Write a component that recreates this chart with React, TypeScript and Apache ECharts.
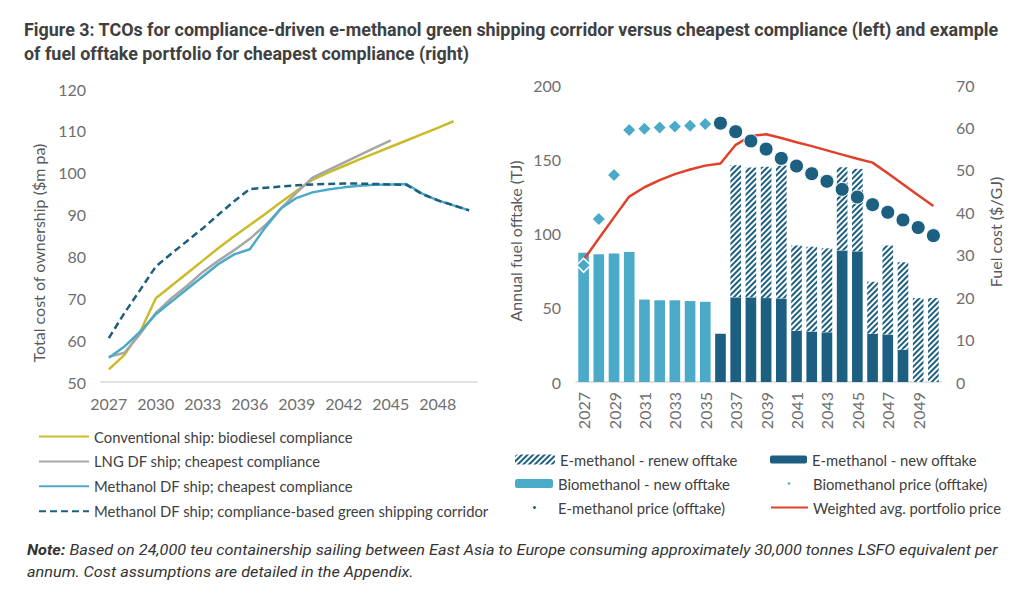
import React, { useEffect, useRef } from 'react';
import * as echarts from 'echarts';

const years = ['2027','2028','2029','2030','2031','2032','2033','2034','2035','2036','2037','2038','2039','2040','2041','2042','2043','2044','2045','2046','2047','2048','2049','2050'];

// Left chart: TCO ($m pa)
const conventional = [53, 56.5, 62, 70, 73, 76, 79, 82, 84.8, 87.5, 90.2, 93, 95.7, 98.3, 100, 101.6, 103.2, 104.7, 106.2, 107.7, 109.2, 110.7, 112.3, null];
const lngDf = [56, 57, 61.5, 66.5, 70, 73, 76.3, 79, 81.5, 84.2, 87.5, 91.5, 95.3, 98.8, 100.6, 102.4, 104.2, 106, 107.7, null, null, null, null, null];
const methanolDf = [55.8, 58.5, 62, 66.2, 69.2, 72.2, 75.2, 78.2, 80.5, 81.7, 87, 91.5, 94, 95.3, 96, 96.5, 96.9, 97.1, 97.2, 97.3, 95, 93.4, 92.2, 91];
const corridor = [60.5, 66.5, 72, 77.6, 80.7, 83.7, 86.7, 90, 93.2, 96.1, 96.4, 96.7, 97, 97.2, 97.3, 97.4, 97.4, 97.3, 97.2, 97.1, 94.9, 93.4, 92.2, 91];

// Right chart: offtake (TJ) and prices ($/GJ)
const bioNew = [87, 86, 86.5, 87.5, 55.5, 55, 55, 54.5, 54, null, null, null, null, null, null, null, null, null, null, null, null, null, null, null];
const eNew = [null, null, null, null, null, null, null, null, null, 32.5, 57, 57, 56.5, 56.3, 34.5, 34, 33.5, 88.6, 88, 32.5, 32, 21.7, null, null];
const eRenew = [null, null, null, null, null, null, null, null, null, null, 89, 87.5, 88.5, 89.5, 57.5, 57, 56.5, 56, 55.5, 35, 60, 59, 56.5, 56.5];
const bioPrice = [27.5, 38.4, 48.8, 59.4, 59.7, 60, 60.2, 60.4, 60.8, null, null, null, null, null, null, null, null, null, null, null, null, null, null, null];
const ePrice = [null, null, null, null, null, null, null, null, null, 61, 59, 56.8, 54.9, 52.7, 50.9, 49.1, 47.3, 45.4, 43.6, 41.8, 40, 38.2, 36.4, 34.5];
const weighted = [28.8, 33.8, 38.8, 43.7, 45.9, 47.6, 49, 50.1, 51, 51.5, 55.9, 58, 58.4, 57.5, 56.5, 55.6, 54.6, 53.6, 52.6, 51.7, 49.2, 46.6, 44, 41.5];

const leftTicks = { min: 50, max: 120, interval: 10 };
const offtakeTicks = { min: 0, max: 200, interval: 50 };
const costTicks = { min: 0, max: 70, interval: 10 };

const TITLE_1 = 'Figure 3: TCOs for compliance-driven e-methanol green shipping corridor versus cheapest compliance (left) and example';
const TITLE_2 = 'of fuel offtake portfolio for cheapest compliance (right)';
const NOTE_B = 'Note:';
const NOTE_1 = ' Based on 24,000 teu containership sailing between East Asia to Europe consuming approximately 30,000 tonnes LSFO equivalent per';
const NOTE_2 = 'annum. Cost assumptions are detailed in the Appendix.';

const FONT = 'Lato, "Open Sans", sans-serif';
const TFONT = 'Roboto';
const C_YELLOW = '#cbbb2a';
const C_GRAY = '#a6a6a6';
const C_LBLUE = '#4aaac8';
const C_DARK = '#1c5f80';
const C_RED = '#e0412b';
const AX_LABEL = { color: '#6f6f6f', fontSize: 16, fontFamily: FONT };
const LEG_TEXT = { color: '#404040', fontSize: 14.8, fontFamily: FONT };

const hatch = {
  symbol: 'rect',
  symbolSize: 1,
  color: C_DARK,
  dashArrayX: [1, 0],
  dashArrayY: [2, 2],
  rotation: -Math.PI / 4,
};

function measure(text: string, font: string) {
  const ctx = document.createElement('canvas').getContext('2d');
  if (!ctx) return 0;
  ctx.font = font;
  return ctx.measureText(text).width;
}

function buildOption() {
  const titleW = measure(TITLE_1, `bold 18px ${TFONT}`) || 976;
  const titleScale = 976 / titleW;
  const noteW = (measure(NOTE_B, `italic bold 14.5px ${TFONT}`) + measure(NOTE_1, `italic 14.5px ${TFONT}`)) || 971;
  const noteScale = 971 / noteW;

  const lineSeries = (name: string, data: any[], color: string, dashed = false) => ({
    name,
    type: 'line',
    xAxisIndex: 0,
    yAxisIndex: 0,
    data,
    symbol: 'none',
    showSymbol: false,
    lineStyle: { color, width: 2.5, type: dashed ? [7, 4] : 'solid' },
    itemStyle: { color },
  });

  const smallLegend = (name: string, left: number, top: number, w: number, h: number, extra: any = {}) => ({
    data: [name],
    left,
    top,
    itemWidth: w,
    itemHeight: h,
    padding: 0,
    textStyle: LEG_TEXT,
    selectedMode: false,
    ...extra,
  });

  return {
    animation: false,
    backgroundColor: '#ffffff',
    grid: [
      { left: 101, top: 89, width: 376, height: 293 },
      { left: 576, top: 85, width: 365, height: 297 },
    ],
    xAxis: [
      {
        type: 'category',
        gridIndex: 0,
        data: years,
        boundaryGap: true,
        axisLine: { lineStyle: { color: '#d9d9d9', width: 1.5 } },
        axisTick: { show: false },
        axisLabel: { ...AX_LABEL, interval: 2, margin: 13 },
      },
      {
        type: 'category',
        gridIndex: 1,
        data: years,
        boundaryGap: true,
        axisLine: { lineStyle: { color: '#d9d9d9', width: 1.5 } },
        axisTick: { show: false },
        axisLabel: { ...AX_LABEL, interval: 1, rotate: 90, margin: 10 },
      },
    ],
    yAxis: [
      {
        type: 'value',
        gridIndex: 0,
        ...leftTicks,
        axisLine: { show: false },
        axisTick: { show: false },
        splitLine: { show: false },
        axisLabel: { ...AX_LABEL, margin: 15 },
      },
      {
        type: 'value',
        gridIndex: 1,
        ...offtakeTicks,
        axisLine: { show: false },
        axisTick: { show: false },
        splitLine: { show: false },
        axisLabel: { ...AX_LABEL, margin: 15 },
      },
      {
        type: 'value',
        gridIndex: 1,
        position: 'right',
        ...costTicks,
        axisLine: { show: false },
        axisTick: { show: false },
        splitLine: { show: false },
        axisLabel: { ...AX_LABEL, margin: 15 },
      },
    ],
    legend: [
      {
        data: [
          'Conventional ship: biodiesel compliance',
          'LNG DF ship; cheapest compliance',
          'Methanol DF ship; cheapest compliance',
          'Methanol DF ship; compliance-based green shipping corridor',
        ],
        orient: 'vertical',
        left: 38,
        top: 429,
        itemWidth: 50,
        itemHeight: 14,
        itemGap: 9.9,
        padding: 0,
        textStyle: LEG_TEXT,
        itemStyle: { opacity: 0 },
        selectedMode: false,
      },
      smallLegend('E-methanol - renew offtake', 515, 452, 40, 10),
      smallLegend('Biomethanol - new offtake', 515, 476, 38, 9),
      smallLegend('E-methanol price (offtake)', 531, 500, 5, 5, { textStyle: { ...LEG_TEXT, padding: [0, 0, 0, 16] } }),
      smallLegend('E-methanol - new offtake', 770, 452, 37, 8),
      smallLegend('Biomethanol price (offtake)', 785, 476, 6, 6, { textStyle: { ...LEG_TEXT, padding: [0, 0, 0, 16] } }),
      smallLegend('Weighted avg. portfolio price', 770, 500, 37, 12, { itemStyle: { opacity: 0 } }),
    ],
    graphic: [
      {
        type: 'text',
        x: 24,
        y: 17,
        scaleX: titleScale,
        style: {
          text: TITLE_1 + '\n' + TITLE_2,
          fill: '#404040',
          fontSize: 18,
          fontWeight: 'bold',
          fontFamily: TFONT,
          lineHeight: 24,
          verticalAlign: 'top',
        },
      },
      {
        type: 'text',
        x: 38,
        y: 253,
        rotation: Math.PI / 2,
        style: { text: 'Total cost of ownership ($m pa)', fill: '#595959', fontSize: 16, fontFamily: FONT, align: 'center', verticalAlign: 'middle' },
      },
      {
        type: 'text',
        x: 515,
        y: 241,
        rotation: Math.PI / 2,
        style: { text: 'Annual fuel offtake (TJ)', fill: '#595959', fontSize: 16, fontFamily: FONT, align: 'center', verticalAlign: 'middle' },
      },
      {
        type: 'text',
        x: 995,
        y: 232,
        rotation: Math.PI / 2,
        style: { text: 'Fuel cost ($/GJ)', fill: '#595959', fontSize: 16, fontFamily: FONT, align: 'center', verticalAlign: 'middle' },
      },
      {
        type: 'text',
        x: 27,
        y: 539,
        scaleX: noteScale,
        style: {
          text: `{b|${NOTE_B}}{i|${NOTE_1}}\n{i|${NOTE_2}}`,
          verticalAlign: 'top',
          rich: {
            b: { fontFamily: TFONT, fontSize: 14.5, fontWeight: 'bold', fontStyle: 'italic', fill: '#333333', lineHeight: 22 },
            i: { fontFamily: TFONT, fontSize: 14.5, fontStyle: 'italic', fill: '#333333', lineHeight: 22 },
          },
        },
      },
    ],
    series: [
      lineSeries('Conventional ship: biodiesel compliance', conventional, C_YELLOW),
      lineSeries('LNG DF ship; cheapest compliance', lngDf, C_GRAY),
      lineSeries('Methanol DF ship; cheapest compliance', methanolDf, C_LBLUE),
      lineSeries('Methanol DF ship; compliance-based green shipping corridor', corridor, '#1e5f7c', true),
      {
        name: 'Biomethanol - new offtake',
        type: 'bar',
        xAxisIndex: 1,
        yAxisIndex: 1,
        stack: 'offtake',
        data: bioNew,
        barCategoryGap: '30%',
        itemStyle: { color: C_LBLUE },
      },
      {
        name: 'E-methanol - new offtake',
        type: 'bar',
        xAxisIndex: 1,
        yAxisIndex: 1,
        stack: 'offtake',
        data: eNew,
        barCategoryGap: '30%',
        itemStyle: { color: C_DARK },
      },
      {
        name: 'E-methanol - renew offtake',
        type: 'bar',
        xAxisIndex: 1,
        yAxisIndex: 1,
        stack: 'offtake',
        data: eRenew,
        barCategoryGap: '30%',
        itemStyle: { color: '#ffffff', decal: hatch },
      },
      {
        name: 'Weighted avg. portfolio price',
        type: 'line',
        xAxisIndex: 1,
        yAxisIndex: 2,
        data: weighted,
        symbol: 'none',
        showSymbol: false,
        lineStyle: { color: C_RED, width: 2.5 },
        itemStyle: { color: C_RED },
        z: 3,
      },
      {
        name: 'Biomethanol price (offtake)',
        type: 'scatter',
        xAxisIndex: 1,
        yAxisIndex: 2,
        data: bioPrice,
        symbol: 'diamond',
        symbolSize: 14,
        itemStyle: { color: C_LBLUE, borderColor: '#ffffff', borderWidth: 1.5, opacity: 1 },
        z: 4,
      },
      {
        name: 'E-methanol price (offtake)',
        type: 'scatter',
        xAxisIndex: 1,
        yAxisIndex: 2,
        data: ePrice,
        symbol: 'circle',
        symbolSize: 14,
        itemStyle: { color: C_DARK, borderColor: '#ffffff', borderWidth: 1, opacity: 1 },
        z: 4,
      },
    ],
  };
}

export default function App() {
  const ref = useRef<HTMLDivElement>(null);
  useEffect(() => {
    if (!ref.current) return;
    const chart = echarts.init(ref.current, null, { renderer: 'svg' });
    chart.setOption(buildOption() as any);
    return () => chart.dispose();
  }, []);
  return (
    <div
      ref={ref}
      style={{ position: 'fixed', left: 0, top: 0, width: 1024, height: 593, background: '#ffffff' }}
    />
  );
}
